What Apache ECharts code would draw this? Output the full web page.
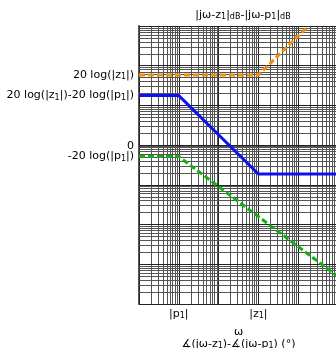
<!DOCTYPE html>
<html>
<head>
<meta charset="utf-8">
<script src="https://cdn.jsdelivr.net/npm/echarts@6/dist/echarts.min.js"></script>
<style>html,body{margin:0;padding:0;background:#fff}#c{width:336px;height:348px}</style>
</head>
<body>
<div id="c"></div>
<script>
// ---- data (schematic Bode magnitude, arbitrary dB units) ----
const orangeX = [1, 1000, 16000];
const orangeY = [35.5, 35.5, 59];
const blueX = [1, 10, 1000, 100000];
const blueY = [25.2, 25.2, -14, -14];
const greenX = [1, 10, 100000];
const greenY = [-5.3, -5.3, -65.3];
const yLabelValues = [35.5, 25.2, 0, -5.3];
const yLabelTexts = ['20 log(|z{s|1}|)', '20 log(|z{s|1}|)-20 log(|p{s|1}|)', '0', '-20 log(|p{s|1}|)'];
const xLabelValues = [10, 1000];
const xLabelTexts = ['|p{s|1}|', '|z{s|1}|'];
const titleText = '|jω-z{s|1}|{s|dB}-|jω-p{s|1}|{s|dB}';
const xNameText = 'ω\n∡(jω-z{s|1})-∡(jω-p{s|1}) (°)';

const FONT = 'DejaVu Sans';
const rich = { s: { fontSize: 8, fontFamily: FONT, color: '#000', verticalAlign: 'bottom', padding: [4, 0, 0, 0] } };

function pairs(xs, ys) { return xs.map((x, i) => [x, ys[i]]); }

// log-paper grid lines (decorative)
const MAJOR = '#222', MINOR = '#555';
const vLines = [], hLines = [];
for (let k = 0; k < 5; k++) for (let m = 1; m <= 9; m++) {
  vLines.push({ xAxis: m * Math.pow(10, k), lineStyle: { color: m === 1 ? MAJOR : MINOR, width: 1, type: 'solid' } });
}
for (let k = 0; k < 7; k++) for (let m = 1; m <= 9; m++) {
  hLines.push({ yAxis: m * Math.pow(10, k), lineStyle: { color: m === 1 ? MAJOR : MINOR, width: 1, type: 'solid' } });
}
hLines.push({ yAxis: 1e7, lineStyle: { color: MAJOR, width: 1, type: 'solid' } });

const chart = echarts.init(document.getElementById('c'), null, { renderer: 'canvas' });
chart.setOption({
  animation: false,
  backgroundColor: '#fff',
  title: {
    text: titleText, left: 238, top: 4, textAlign: 'center',
    textStyle: { fontSize: 11, fontWeight: 'normal', color: '#000', fontFamily: FONT, rich: rich }
  },
  grid: { left: 139, top: 26, width: 199, height: 278, containLabel: false, outerBoundsMode: 'none' },
  xAxis: {
    type: 'log', logBase: 10, min: 1, max: 100000,
    axisLine: { show: true, lineStyle: { color: '#555', width: 2 } },
    axisTick: { show: false },
    splitLine: { show: false },
    axisLabel: {
      margin: 4, fontSize: 11, fontFamily: FONT, color: '#000', rich: rich,
      formatter: function (v) { const i = xLabelValues.findIndex(x => Math.abs(x - v) / x < 1e-6); return i >= 0 ? xLabelTexts[i] : ''; }
    },
    name: xNameText, nameLocation: 'middle', nameGap: 22,
    nameTextStyle: { fontSize: 11, fontFamily: FONT, color: '#000', lineHeight: 12, rich: rich }
  },
  yAxis: [
    { type: 'log', logBase: 10, min: 1, max: 1e7,
      axisLine: { show: true, lineStyle: { color: '#555', width: 2 } },
      axisTick: { show: false }, axisLabel: { show: false }, splitLine: { show: false } },
    { type: 'value', min: -79, max: 60, position: 'left',
      axisLine: { show: false }, axisTick: { show: false }, axisLabel: { show: false }, splitLine: { show: false } }
  ],
  series: [
    { type: 'line', data: [], xAxisIndex: 0, yAxisIndex: 0, silent: true, z: 1,
      markLine: { silent: true, symbol: ['none', 'none'], label: { show: false }, animation: false,
        data: vLines.concat(hLines) } },
    { type: 'line', data: [], xAxisIndex: 0, yAxisIndex: 1, silent: true, z: 1,
      markLine: { silent: true, symbol: ['none', 'none'], animation: false,
        lineStyle: { color: 'rgba(0,0,0,0)', width: 0 },
        label: { show: true, position: 'start', distance: 5, fontSize: 11, fontFamily: FONT, color: '#000', rich: rich,
          formatter: function (p) { return p.name; } },
        data: yLabelValues.map((v, i) => ({ yAxis: v, name: yLabelTexts[i] })) } },
    { name: 'orange', type: 'line', xAxisIndex: 0, yAxisIndex: 1, z: 5, symbol: 'none',
      data: pairs(orangeX, orangeY), lineStyle: { color: '#f0900a', width: 3, type: [6, 3] } },
    { name: 'blue', type: 'line', xAxisIndex: 0, yAxisIndex: 1, z: 5, symbol: 'none',
      data: pairs(blueX, blueY), lineStyle: { color: '#1010ee', width: 3, type: 'solid' } },
    { name: 'green', type: 'line', xAxisIndex: 0, yAxisIndex: 1, z: 5, symbol: 'none',
      data: pairs(greenX, greenY), lineStyle: { color: '#10b010', width: 3, type: [6, 3] } }
  ]
});
</script>
</body>
</html>
